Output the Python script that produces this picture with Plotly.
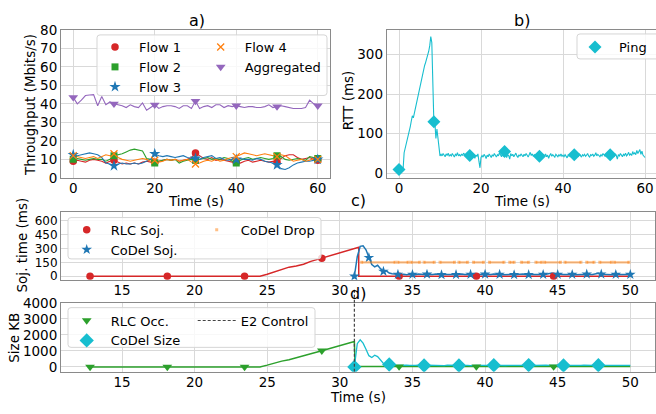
import plotly.graph_objects as go

W, H = 656, 414

# ---------------- a) throughput per flow, 1 s samples ----------------
flow_t = list(range(0, 61))
flow1 = [9.0, 9.5, 9.0, 8.5, 9.5, 10.0, 9.5, 9.0, 8.0, 9.0, 9.5,
         8.5, 7.5, 8.0, 7.5, 8.0, 7.5, 8.5, 9.0, 8.5, 8.5,
         9.0, 9.5, 10.0, 9.5, 10.0, 9.0, 9.5, 10.0, 11.0, 13.5,
         12.0, 10.5, 10.0, 11.0, 9.5, 10.0, 9.5, 9.0, 8.5, 8.5,
         8.0, 9.0, 9.5, 8.5, 9.0, 9.5, 9.0, 8.5, 9.0, 8.5,
         10.5, 12.0, 12.5, 12.5, 11.0, 10.0, 10.5, 11.0, 10.0, 9.5]
flow2 = [10.0, 10.5, 10.0, 9.5, 10.0, 10.5, 10.0, 10.0, 9.0, 10.0, 12.0,
         12.5, 13.0, 14.0, 15.0, 15.5, 15.0, 14.5, 10.5, 10.0, 8.0,
         9.0, 9.5, 10.0, 9.5, 10.0, 8.0, 9.0, 9.5, 10.0, 9.5,
         10.0, 10.5, 11.0, 10.0, 10.5, 10.0, 11.0, 10.5, 9.0, 8.0,
         9.5, 10.5, 11.0, 10.0, 10.5, 11.0, 10.5, 10.0, 10.5, 12.0,
         11.5, 10.0, 9.5, 10.0, 10.5, 10.0, 9.5, 11.5, 11.0, 10.5]
flow3 = [12.5, 12.0, 12.5, 13.0, 13.5, 13.0, 12.5, 11.0, 8.0, 7.5, 6.5,
         7.5, 8.0, 7.5, 7.5, 8.0, 7.5, 8.0, 9.0, 10.0, 13.0,
         12.0, 11.5, 12.0, 11.5, 11.0, 11.5, 12.0, 11.0, 10.5, 10.5,
         10.0, 11.0, 11.5, 12.0, 10.5, 11.0, 10.0, 9.5, 10.0, 10.0,
         10.5, 10.0, 10.0, 9.5, 10.5, 10.0, 9.0, 8.5, 8.0, 7.0,
         5.0, 4.5, 5.5, 7.0, 8.0, 8.5, 9.0, 9.0, 9.5, 10.0]
flow4 = [12.0, 11.5, 11.0, 10.5, 11.0, 11.5, 10.5, 11.5, 12.5, 12.0, 13.0,
         11.0, 10.0, 9.5, 9.0, 9.5, 10.0, 10.5, 10.0, 9.0, 9.5,
         8.5, 9.0, 10.0, 9.5, 10.0, 9.0, 9.5, 10.0, 8.5, 7.5,
         8.0, 9.0, 9.5, 9.0, 10.0, 9.0, 9.5, 10.5, 11.0, 11.5,
         12.5, 13.5, 13.0, 12.5, 12.0, 12.5, 13.0, 12.5, 12.0, 11.5,
         12.5, 12.0, 10.5, 9.0, 9.5, 10.0, 9.0, 9.5, 10.5, 10.0]
aggregated = [43.5, 40.0, 42.0, 44.5, 44.8, 45.0, 39.0, 44.0, 39.5, 41.0, 40.0,
              39.5, 39.0, 38.0, 39.5, 38.5, 38.0, 40.5, 36.5, 38.0, 39.5,
              37.5, 38.5, 39.0, 39.0, 38.5, 37.5, 39.0, 39.0, 37.5, 41.5,
              37.5, 38.5, 39.0, 38.0, 39.5, 39.5, 38.0, 39.0, 38.5, 39.0,
              38.5, 38.0, 38.5, 38.5, 38.0, 38.0, 38.5, 39.5, 38.0, 38.5,
              39.0, 38.5, 38.0, 37.5, 37.5, 37.5, 38.0, 42.0, 40.0, 39.0]
flow_marker_idx = [0, 10, 20, 30, 40, 50, 60]

# ---------------- b) ping RTT, 0.25 s samples ----------------
ping_step = 0.25
ping_rtt = [10, 11, 9, 10, 11, 52, 62, 74, 86, 97, 108, 118, 132, 145, 140, 152,
            166, 178, 192, 204, 218, 232, 240, 252, 262, 272, 280, 288, 296,
            308, 322, 345, 330, 200, 130, 128, 88, 112, 84, 62, 44,
            48, 44, 50, 46, 42, 49, 45, 51, 43, 47, 44, 50, 46, 41, 48, 45, 52, 44, 47, 43,
            49, 45, 51, 47, 44, 50, 46, 53, 45, 48, 42, 47, 44, 38, 46, 43, 49, 30, 14, 40,
            45, 41, 48, 44, 37, 46, 42, 49, 44, 40, 47, 43, 50, 45, 41, 47, 44, 52, 46, 42,
            48, 43, 55, 44, 40, 47, 45, 36, 50, 44, 48, 42, 46, 51, 44, 40, 47, 43, 49, 45,
            42, 48, 44, 50, 46, 41, 47, 53, 45, 49, 43, 47, 44, 40, 46, 50, 43, 48, 45, 41,
            47, 44, 49, 42, 46, 38, 45, 50, 43, 47, 44, 41, 48, 45, 42, 47, 44, 49, 43, 46,
            42, 47, 44, 39, 46, 43, 48, 41, 45, 42, 47, 44, 40, 46, 43, 49, 45, 41, 47, 44,
            48, 43, 46, 50, 44, 41, 47, 45, 49, 43, 46, 52, 44, 48, 45, 42, 47, 44, 50, 46,
            43, 48, 45, 51, 44, 47, 42, 49, 46, 43, 48, 45, 36, 47, 44, 50, 46, 42, 48, 45,
            51, 44, 47, 53, 46, 49, 45, 55, 48, 52, 47, 58, 50, 54, 60, 48, 56, 46, 44, 40]
ping_t = [i * ping_step for i in range(len(ping_rtt))]
ping_marker_idx = [0, 34, 69, 103, 137, 171, 206]

# ---------------- c) sojourn time ----------------
rlc_soj_t = [12.8, 18.12, 23.44, 24.5, 25.0, 25.5, 26.0, 26.5, 27.0, 27.5, 28.0,
             28.76, 29.0, 29.5, 30.0, 30.5, 31.0, 31.3, 31.3, 32.0, 34.08, 36.0,
             38.0, 39.4, 42.0, 44.72, 47.0, 50.0]
rlc_soj = [0, 0, 0, 0, 22, 46, 70, 98, 110, 130, 160,
           194, 205, 228, 250, 272, 296, 312, 0, 0, 0, 0,
           0, 0, 0, 0, 0, 0]
rlc_soj_marker_idx = [0, 1, 2, 11, 20, 23, 25]

codel_step = 0.2
codel_t0 = 31.0
codel_soj = [0, 210, 322, 328, 285, 200, 125, 100, 118, 82, 52, 58, 35, 28, 22,
             20, 18, 22, 17, 21, 19, 16, 23, 18, 20, 21, 17, 19, 24, 18, 16, 20, 22, 18, 19,
             17, 21, 25, 18, 16, 20, 19, 22, 17, 18, 21, 16, 19, 23, 18, 20, 17, 19, 22, 18,
             16, 20, 19, 24, 18, 17, 21, 19, 16, 20, 18, 22, 28, 35, 24, 19, 21, 18, 20, 23,
             19, 17, 21, 20, 18, 22, 19, 18, 26, 33, 22, 19, 21, 20, 17, 19, 22, 18, 20, 21, 18]
codel_t = [round(codel_t0 + i * codel_step, 2) for i in range(len(codel_soj))]
codel_soj_marker_idx = list(range(0, len(codel_soj), 5))

drop_start = [31.5, 34.0, 34.9, 35.8, 36.9, 38.2, 39.2, 40.3, 41.7, 42.5, 43.5,
              44.1, 45.5, 47.0, 47.9, 48.9]
drop_end = [33.8, 34.7, 35.5, 36.5, 37.9, 38.8, 39.9, 41.3, 42.0, 43.0, 43.9,
            45.2, 46.6, 47.5, 48.7, 49.9]
drop_level = 150

# ---------------- d) queue occupancy ----------------
rlc_occ_t = [12.8, 18.12, 23.44, 24.5, 25.0, 25.5, 26.0, 26.5, 27.0, 27.5, 28.0,
             28.76, 29.0, 29.5, 30.0, 30.5, 31.0, 31.05, 31.5, 34.08, 36.0, 39.4,
             42.0, 44.72, 47.0, 50.0]
rlc_occ = [0, 0, 0, 0, 110, 240, 360, 450, 560, 690, 820,
           1010, 1070, 1200, 1330, 1450, 1590, 20, 20, 20, 20, 20,
           20, 20, 20, 20]
rlc_occ_marker_idx = [0, 1, 2, 11, 19, 21, 23]

codel_size = [0, 1450, 1690, 1480, 1100, 700, 590, 730, 640, 420, 220, 190, 150, 110, 95,
              90, 105, 85, 110, 95, 80, 100, 115, 90, 85, 105, 95, 110, 88, 100, 92, 80, 108, 96, 90,
              102, 85, 98, 112, 90, 84, 106, 95, 88, 100, 110, 92, 86, 104, 97, 90, 108, 85, 95, 100,
              88, 105, 93, 80, 98, 110, 90, 86, 102, 95, 88, 106, 92, 100, 85, 97, 108, 90, 94, 100,
              86, 104, 95, 90, 110, 92, 88, 100, 96, 105, 90, 86, 102, 94, 98, 90, 106, 92, 88, 100, 95]
codel_size_marker_idx = list(range(0, len(codel_size), 12))

e2_control_t = 31.0

# ---------------- styling ----------------
RED, GREEN, BLUE = '#d62728', '#2ca02c', '#1f77b4'
ORANGE, PURPLE, CYAN = '#ff7f0e', '#9467bd', '#17becf'
DROP = 'rgba(255,127,14,0.5)'
E2 = '#444444'
FONT = 'DejaVu Sans'
TICK = 13.5


def px(x):
    return x / W


def py(y):
    return 1 - y / H


def pick(seq, idx):
    return [seq[i] for i in idx]


fig = go.Figure()


def line(x, y, color, width, xa, ya, dash=None, legend=None, name=None):
    fig.add_trace(go.Scatter(
        x=x, y=y, mode='lines', xaxis=xa, yaxis=ya, name=name,
        line=dict(color=color, width=width, dash=dash),
        showlegend=legend is not None, legend=legend or 'legend',
        hoverinfo='skip'))


def marks(x, y, color, symbol, size, xa, ya, name, legend, lw=0):
    fig.add_trace(go.Scatter(
        x=x, y=y, mode='markers', xaxis=xa, yaxis=ya, name=name,
        marker=dict(color=color, symbol=symbol, size=size,
                    line=dict(color=color, width=lw)),
        legend=legend, showlegend=True))


# a) lines
flows = [(flow1, RED, 'circle', 7.5, 'Flow 1', 'legend', 0),
         (flow2, GREEN, 'square', 7, 'Flow 2', 'legend', 0),
         (flow3, BLUE, 'star', 8.5, 'Flow 3', 'legend', 0),
         (flow4, ORANGE, 'x-thin', 7, 'Flow 4', 'legend2', 1.3),
         (aggregated, PURPLE, 'triangle-down', 8.5, 'Aggregated', 'legend2', 0)]
for vals, col, sym, sz, name, lg, lw in flows:
    line(flow_t, vals, col, 1.1, 'x', 'y')
for vals, col, sym, sz, name, lg, lw in flows:
    marks(pick(flow_t, flow_marker_idx), pick(vals, flow_marker_idx),
          col, sym, sz, 'x', 'y', name, lg, lw)

# b) ping
line(ping_t, ping_rtt, CYAN, 1.1, 'x2', 'y2')
marks(pick(ping_t, ping_marker_idx), pick(ping_rtt, ping_marker_idx),
      CYAN, 'diamond', 10, 'x2', 'y2', 'Ping', 'legend3')

# c) sojourn
line(rlc_soj_t, rlc_soj, RED, 1.5, 'x3', 'y3')
line(codel_t, codel_soj, BLUE, 1.5, 'x3', 'y3')
marks(pick(rlc_soj_t, rlc_soj_marker_idx), pick(rlc_soj, rlc_soj_marker_idx),
      RED, 'circle', 7.5, 'x3', 'y3', 'RLC Soj.', 'legend4')
marks(pick(codel_t, codel_soj_marker_idx), pick(codel_soj, codel_soj_marker_idx),
      BLUE, 'star', 8, 'x3', 'y3', 'CoDel Soj.', 'legend4')
drop_x, drop_y = [], []
for s, e in zip(drop_start, drop_end):
    drop_x += [s, e, None]
    drop_y += [drop_level, drop_level, None]
line(drop_x, drop_y, DROP, 2.2, 'x3', 'y3')
marks(drop_start + drop_end, [drop_level] * (len(drop_start) + len(drop_end)),
      DROP, 'square', 3, 'x3', 'y3', 'CoDel Drop', 'legend5')

# d) occupancy
line(rlc_occ_t, rlc_occ, GREEN, 1.5, 'x4', 'y4')
line(codel_t, codel_size, CYAN, 1.3, 'x4', 'y4')
marks(pick(rlc_occ_t, rlc_occ_marker_idx), pick(rlc_occ, rlc_occ_marker_idx),
      GREEN, 'triangle-down', 8.5, 'x4', 'y4', 'RLC Occ.', 'legend6')
marks(pick(codel_t, codel_size_marker_idx), pick(codel_size, codel_size_marker_idx),
      CYAN, 'diamond', 11, 'x4', 'y4', 'CoDel Size', 'legend6')
line([e2_control_t, e2_control_t], [-300, 4000], E2, 1.2, 'x4', 'y4',
     dash='3px,2px', legend='legend7', name='E2 Control')

# ---------------- axes ----------------
axis_common = dict(showline=True, linecolor='#8a8a8a', linewidth=1, mirror=True,
                   showgrid=True, gridcolor='#d9d9d9', gridwidth=1, zeroline=False,
                   ticks='', ticklen=0,
                   tickfont=dict(size=TICK, color='black', family=FONT))
x_common = dict(axis_common, ticklabelstandoff=-2)
# the sojourn axis has tightly packed ticks, so its labels are a touch smaller
soj_y = dict(axis_common, tickfont=dict(size=12, color='black', family=FONT))

A_dom_y = [py(176.7), py(22.7)]
C_dom_y = [py(282.7), py(211.7)]
D_dom_y = [py(378.3), py(306.7)]
wide_x = [px(61), px(655)]

fig.update_layout(
    xaxis=dict(x_common, domain=[px(61), px(330)], range=[-3, 63],
               tickvals=[0, 20, 40, 60], anchor='y'),
    yaxis=dict(axis_common, domain=A_dom_y, range=[0, 80], dtick=10, anchor='x'),
    xaxis2=dict(x_common, domain=[px(386.7), 1.0], range=[-3, 62.68],
                tickvals=[0, 20, 40, 60], anchor='y2'),
    yaxis2=dict(axis_common, domain=A_dom_y, range=[-11.4, 362],
                tickvals=[0, 100, 200, 300], anchor='x2', mirror=False),
    xaxis3=dict(x_common, domain=wide_x, range=[10.8, 51.7],
                tickvals=[15, 20, 25, 30, 35, 40, 45, 50], anchor='y3'),
    yaxis3=dict(soj_y, domain=C_dom_y, range=[-38, 697],
                tickvals=[0, 150, 300, 450, 600], anchor='x3'),
    xaxis4=dict(x_common, domain=wide_x, range=[10.8, 51.7],
                tickvals=[15, 20, 25, 30, 35, 40, 45, 50], anchor='y4'),
    yaxis4=dict(axis_common, domain=D_dom_y, range=[-300, 4000],
                tickvals=[0, 1000, 2000, 3000, 4000], anchor='x4'),
)

# ---------------- legends ----------------
leg_common = dict(bgcolor='rgba(0,0,0,0)', borderwidth=0, itemwidth=38,
                  font=dict(family=FONT, size=13, color='black'),
                  xanchor='left', yanchor='top', orientation='v',
                  itemclick=False, itemdoubleclick=False)
fig.update_layout(
    legend=dict(leg_common, x=px(91), y=py(25)),
    legend2=dict(leg_common, x=px(196.7), y=py(25)),
    legend3=dict(leg_common, x=px(571), y=py(25)),
    legend4=dict(leg_common, x=px(62.7), y=py(215)),
    legend5=dict(leg_common, x=px(192.7), y=py(215)),
    legend6=dict(leg_common, x=px(62.7), y=py(309.5)),
    legend7=dict(leg_common, x=px(192.7), y=py(309.5)),
)


def rounded_box(x0, y0, x1, y1, r=3):
    # rounded rectangle in pixel coordinates, emitted in paper units
    rx, ry = r / W, r / H
    X0, X1, Y0, Y1 = px(x0), px(x1), py(y1), py(y0)
    return (f"M {X0 + rx},{Y0} L {X1 - rx},{Y0} Q {X1},{Y0} {X1},{Y0 + ry} "
            f"L {X1},{Y1 - ry} Q {X1},{Y1} {X1 - rx},{Y1} L {X0 + rx},{Y1} "
            f"Q {X0},{Y1} {X0},{Y1 - ry} L {X0},{Y0 + ry} Q {X0},{Y0} {X0 + rx},{Y0} Z")


shapes = []
for box in [(97, 28, 327, 91), (577, 27, 660, 53), (68, 218, 321, 261), (68, 311.7, 315, 353)]:
    shapes.append(dict(type='path', path=rounded_box(*box), xref='paper', yref='paper',
                       fillcolor='rgba(255,255,255,0.8)',
                       line=dict(color='#d5d5d5', width=1), layer='above'))
# E2 control marker continues a little above the occupancy panel
shapes.append(dict(type='line', xref='x4', yref='paper', x0=e2_control_t, x1=e2_control_t,
                   y0=D_dom_y[1], y1=py(292), line=dict(color=E2, width=1.2, dash='3px,2px'),
                   layer='above'))
fig.update_layout(shapes=shapes)

# ---------------- titles & axis labels ----------------
ann = []


def text(x, y, s, size=TICK, angle=0):
    ann.append(dict(x=px(x), y=py(y), xref='paper', yref='paper', text=s, showarrow=False,
                    textangle=angle, xanchor='center', yanchor='middle',
                    font=dict(family=FONT, size=size, color='black')))


text(197, 13, 'a)', 16)
text(522, 13, 'b)', 16)
text(358, 200, 'c)', 16)
text(358, 297, 'd)', 16)
text(196, 201, 'Time (s)')
text(522, 201, 'Time (s)')
text(358, 405, 'Time (s)')
text(30, 101, 'Throughput (Mbits/s)', angle=-90)
text(348, 96, 'RTT (ms)', angle=-90)
text(22, 247, 'Soj. time (ms)', angle=-90)
text(14, 343, 'Size KB', angle=-90)

fig.update_layout(
    annotations=ann,
    width=W, height=H, margin=dict(l=0, r=0, t=0, b=0),
    paper_bgcolor='white', plot_bgcolor='white',
    font=dict(family=FONT, size=TICK, color='black'),
    hovermode=False,
)

fig.write_html("out.html")
